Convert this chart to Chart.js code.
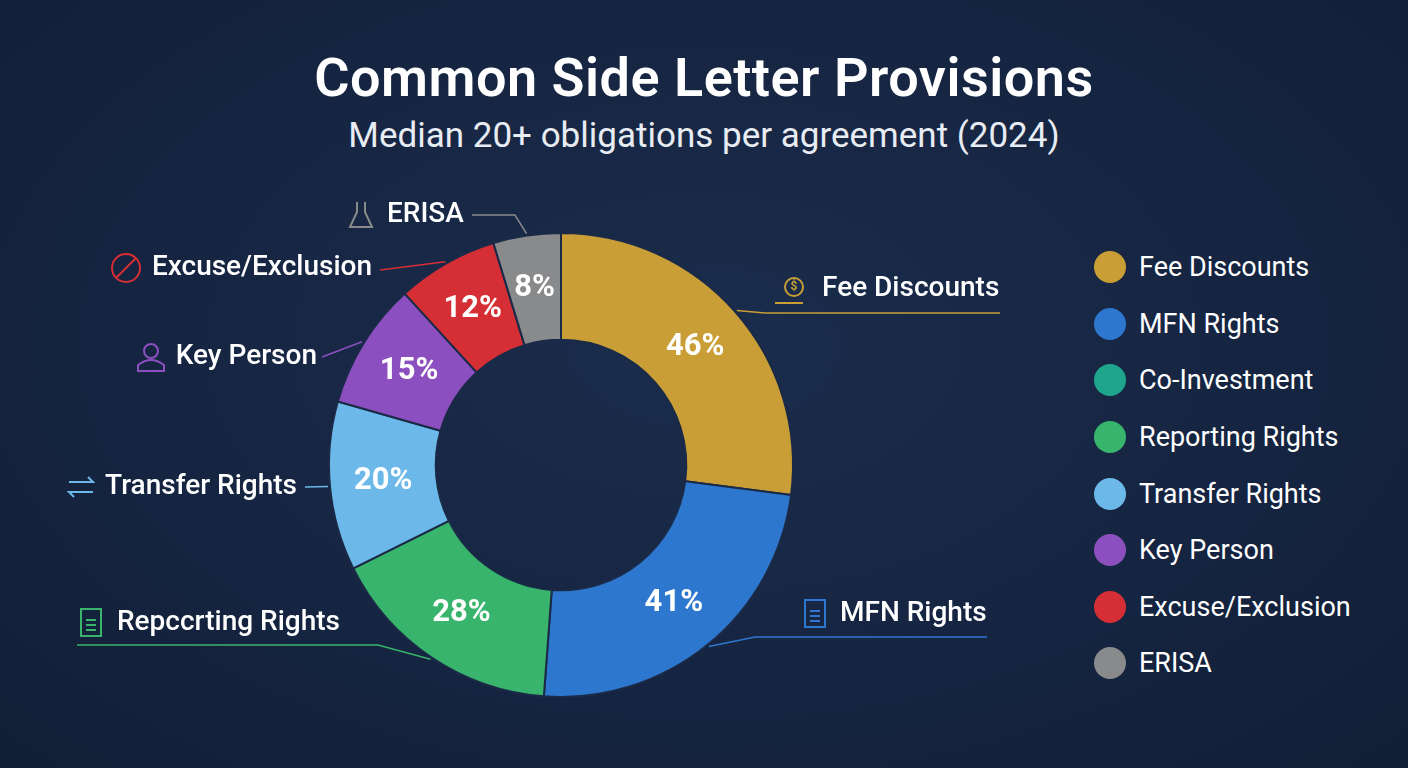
<!DOCTYPE html>
<html><head><meta charset="utf-8">
<script src="https://cdn.jsdelivr.net/npm/chart.js@4/dist/chart.umd.min.js"></script>
<style>
html,body{margin:0;padding:0;width:1408px;height:768px;overflow:hidden;background:radial-gradient(ellipse at 50% 45%,#1b2d4d 0%,#152440 60%,#111e36 100%);font-family:Roboto,"Open Sans",sans-serif;color:#fff}
#t{position:absolute;top:46px;left:0;width:1408px;text-align:center;font-size:54px;font-weight:600;letter-spacing:0.5px}
#s{position:absolute;top:115px;left:0;width:1408px;text-align:center;font-size:35px;color:#e8ecf3}
#c{position:absolute;left:0;top:0}
#lg{position:absolute;left:1094px;top:239px;font-size:27px}
#lg div{height:56.6px;display:flex;align-items:center}
#lg span{display:inline-block;width:32px;height:32px;border-radius:50%;margin-right:13px}
</style></head><body>
<div id="t">Common Side Letter Provisions</div>
<div id="s">Median 20+ obligations per agreement (2024)</div>
<div id="lg"></div>
<canvas id="c" width="1408" height="768"></canvas>
<script>
const categories=["Fee Discounts","MFN Rights","Co-Investment","Reporting Rights","Transfer Rights","Key Person","Excuse/Exclusion","ERISA"];
const values=[46,41,0,28,20,15,12,8];
const colors=["#C99E36","#2E77CF","#1FA58C","#38B46C","#6CB9E9","#8C4FBF","#D52F35","#898A8C"];
const calloutText=["Fee Discounts","MFN Rights","","Repccrting Rights","Transfer Rights","Key Person","Excuse/Exclusion","ERISA"];
// callout layout: [elbow x,y, end x,y, text x, align, icon x, text y]
const callLayout=[
 [765,313,1000,313,822,"left",791,289],
 [755,637,987,637,840,"left",815,614],
 null,
 [378,645,77,645,117,"left",91,623],
 [305,487,305,487,297,"right",81,487],
 [322,357,322,357,317,"right",151,357],
 [380,270,380,270,372,"right",126,268],
 [515,215,472,215,387,"left",361,215]
];
const lg=document.getElementById('lg');
categories.forEach((c,i)=>{lg.innerHTML+=`<div><span style="background:${colors[i]}"></span>${c}</div>`});

function icon(ctx,i,x,y,col){
 ctx.save();ctx.strokeStyle=col;ctx.fillStyle=col;ctx.lineWidth=2;ctx.beginPath();
 if(i===1||i===3){ctx.rect(x-10,y-14,20,27);ctx.moveTo(x-5,y-3);ctx.lineTo(x+5,y-3);ctx.moveTo(x-5,y+2);ctx.lineTo(x+5,y+2);ctx.moveTo(x-5,y+7);ctx.lineTo(x+5,y+7);ctx.stroke();}
 else if(i===6){ctx.arc(x,y,14,0,Math.PI*2);ctx.moveTo(x-10,y+10);ctx.lineTo(x+10,y-10);ctx.stroke();}
 else if(i===5){ctx.arc(x,y-6,7,0,Math.PI*2);ctx.moveTo(x-13,y+14);ctx.lineTo(x-13,y+8);ctx.quadraticCurveTo(x,y-2,x+13,y+8);ctx.lineTo(x+13,y+14);ctx.closePath();ctx.stroke();}
 else if(i===4){ctx.moveTo(x-12,y-5);ctx.lineTo(x+12,y-5);ctx.lineTo(x+7,y-10);ctx.moveTo(x+12,y+5);ctx.lineTo(x-12,y+5);ctx.lineTo(x-7,y+10);ctx.stroke();}
 else if(i===7){ctx.moveTo(x-4,y-13);ctx.lineTo(x-4,y-3);ctx.lineTo(x-11,y+12);ctx.lineTo(x+11,y+12);ctx.lineTo(x+4,y-3);ctx.lineTo(x+4,y-13);ctx.stroke();}
 else if(i===0){ctx.arc(x+3,y-2,9,0,Math.PI*2);ctx.moveTo(x-16,y+14);ctx.lineTo(x+12,y+14);ctx.stroke();ctx.font="bold 12px Roboto";ctx.textAlign="center";ctx.textBaseline="middle";ctx.fillText("$",x+3,y-2);}
 ctx.restore();
}
const plug={id:'lbl',afterDatasetsDraw(ch){
 const ctx=ch.ctx,meta=ch.getDatasetMeta(0);
 meta.data.forEach((a,i)=>{
  if(!values[i])return;
  const mid=(a.startAngle+a.endAngle)/2,r=(a.innerRadius+a.outerRadius)/2;
  ctx.save();ctx.fillStyle="#fff";ctx.font="bold 31px Roboto";ctx.textAlign="center";ctx.textBaseline="middle";
  ctx.fillText(values[i]+"%",a.x+Math.cos(mid)*r,a.y+Math.sin(mid)*r);
  const L=callLayout[i];
  const sx=a.x+Math.cos(mid)*(a.outerRadius+2),sy=a.y+Math.sin(mid)*(a.outerRadius+2);
  ctx.strokeStyle=colors[i];ctx.lineWidth=1.5;ctx.beginPath();ctx.moveTo(sx,sy);ctx.lineTo(L[0],L[1]);ctx.lineTo(L[2],L[3]);ctx.stroke();
  ctx.font="500 28px Roboto";ctx.textAlign=L[5];ctx.fillStyle="#fff";
  ctx.fillText(calloutText[i],L[4],L[7]);
  icon(ctx,i,L[6],L[7],colors[i]);
  ctx.restore();
 });
}};
new Chart(document.getElementById('c'),{type:'doughnut',
 data:{labels:categories,datasets:[{data:values,backgroundColor:colors,borderColor:"#1a2a47",borderWidth:2}]},
 options:{responsive:false,animation:false,cutout:"54%",
  layout:{padding:{left:328,right:614,top:232,bottom:70}},
  plugins:{legend:{display:false},tooltip:{enabled:false}}},
 plugins:[plug]});
</script></body></html>
